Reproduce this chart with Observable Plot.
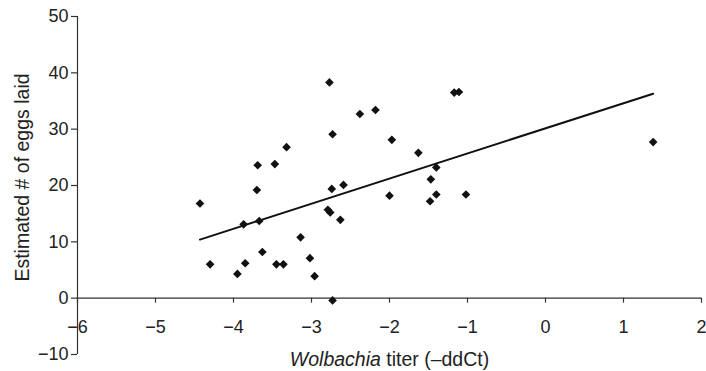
<!DOCTYPE html>
<html>
<head>
<meta charset="utf-8">
<script src="https://cdn.jsdelivr.net/npm/d3@7"></script>
<script src="https://cdn.jsdelivr.net/npm/@observablehq/plot@0.6"></script>
<style>
  html, body { margin: 0; padding: 0; background: #fff; }
  svg { display: block; }
</style>
</head>
<body>
<div id="chart"></div>
<script>
// Wolbachia titer (-ddCt) of each sample
const titer = [-4.43, -4.30, -3.95, -3.85, -3.87, -3.67, -3.70, -3.69, -3.47, -3.32,
               -3.63, -3.45, -3.36, -3.14, -3.02, -2.96, -2.77, -2.73, -2.74, -2.59,
               -2.79, -2.76, -2.63, -2.73, -2.38, -2.18, -1.97, -2.00, -1.63, -1.40,
               -1.47, -1.48, -1.40, -1.02, -1.17, -1.11, 1.38];
// Estimated number of eggs laid by each sample
const eggs  = [16.8, 6.0, 4.3, 6.2, 13.1, 13.7, 19.2, 23.6, 23.8, 26.8,
               8.2, 6.0, 6.0, 10.8, 7.1, 3.9, 38.3, 29.1, 19.4, 20.1,
               15.7, 15.2, 13.9, -0.4, 32.7, 33.4, 28.1, 18.2, 25.8, 23.2,
               21.1, 17.2, 18.4, 18.4, 36.5, 36.6, 27.7];
// Linear trend line (ends)
const fitX = [-4.43, 1.38];
const fitY = [10.4, 36.3];

const xTicks = [-6, -5, -4, -3, -2, -1, 0, 1, 2];
const yTicks = [-10, 0, 10, 20, 30, 40, 50];
const xTitleParts = ["Wolbachia", " titer (\u2013ddCt)"];
const yTitle = "Estimated # of eggs laid";

const points = titer.map((x, i) => ({x, y: eggs[i]}));
const fit = fitX.map((x, i) => ({x, y: fitY[i]}));
const fmt = d => (d < 0 ? "\u2212" + Math.abs(d) : String(d));

const axisColor = "#333";
const textColor = "#222";

const chart = Plot.plot({
  width: 706,
  height: 371,
  marginTop: 16,
  marginBottom: 17,
  marginLeft: 77,
  marginRight: 5,
  x: {domain: [-6, 2], axis: null},
  y: {domain: [-10, 50], axis: null},
  style: {fontFamily: "'Liberation Sans', Arial, Helvetica, sans-serif", fontSize: "18px", color: textColor, background: "#fff"},
  marks: [
    // y axis line and ticks
    Plot.ruleX([-6], {stroke: axisColor, strokeWidth: 1.2}),
    Plot.ruleY(yTicks, {y: d => d, x1: -6, x2: -6, insetLeft: -6, stroke: axisColor, strokeWidth: 1.2}),
    Plot.text(yTicks, {x: -6, y: d => d, text: fmt, textAnchor: "end", dx: -9, fill: textColor, fontSize: 18}),
    // x axis line (at y = 0) and ticks
    Plot.ruleY([0], {stroke: axisColor, strokeWidth: 1.2}),
    Plot.ruleX(xTicks, {x: d => d, y1: 0, y2: 0, insetBottom: -5, stroke: axisColor, strokeWidth: 1.2}),
    Plot.text(xTicks, {x: d => d, y: 0, text: fmt, dy: 29, fill: textColor, fontSize: 18}),
    // axis titles
    Plot.text([yTitle], {text: d => d, frameAnchor: "left", textAnchor: "middle", lineAnchor: "middle", rotate: -90, dx: -55, dy: -8, fill: textColor, fontSize: 19.5}),
    Plot.text([xTitleParts.join("")], {text: d => d, frameAnchor: "bottom", textAnchor: "middle", lineAnchor: "middle", dy: 5, fill: textColor, fontSize: 19.5, className: "xtitle"}),
    // trend line and data
    Plot.line(fit, {x: "x", y: "y", stroke: "#111", strokeWidth: 2}),
    Plot.dot(points, {x: "x", y: "y", symbol: "diamond2", r: 3.9, fill: "#111", stroke: "none"})
  ]
});

// Italicise "Wolbachia" in the x-axis title
const ns = "http://www.w3.org/2000/svg";
const tEl = chart.querySelector("g.xtitle text");
if (tEl) {
  tEl.textContent = "";
  const a = document.createElementNS(ns, "tspan");
  a.setAttribute("font-style", "italic");
  a.textContent = xTitleParts[0];
  const b = document.createElementNS(ns, "tspan");
  b.textContent = xTitleParts[1];
  tEl.appendChild(a);
  tEl.appendChild(b);
}

document.getElementById("chart").appendChild(chart);
</script>
</body>
</html>
